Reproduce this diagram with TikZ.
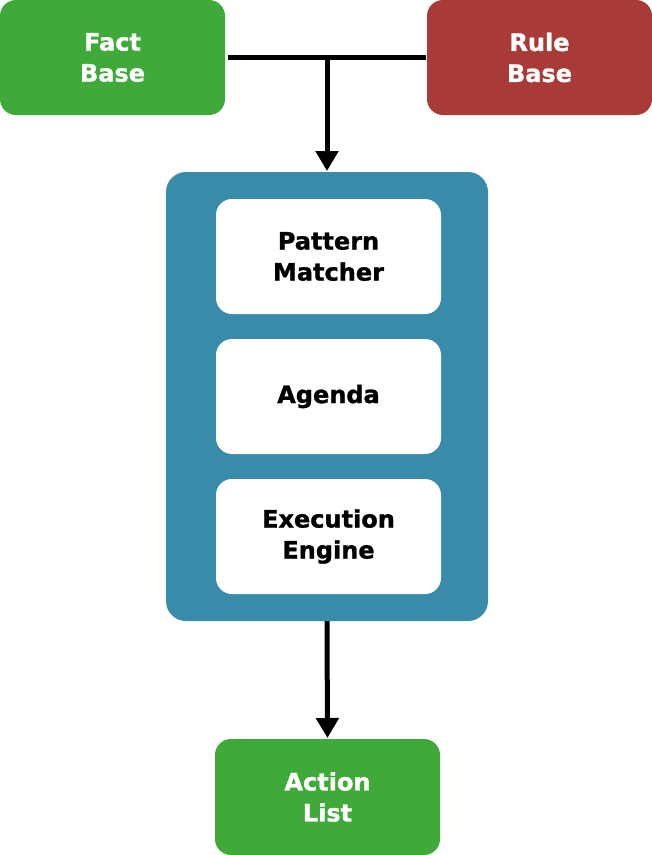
\documentclass[tikz,border=0pt]{standalone}
\usepackage{fontspec}
\setmainfont{DejaVu Sans}[BoldFeatures={FakeBold=1.2}]
\usepackage{xcolor}
\usetikzlibrary{arrows.meta}

\definecolor{factgreen}{HTML}{3FAA3A}
\definecolor{rulered}{HTML}{A83B38}
\definecolor{engineblue}{HTML}{388CA9}

\begin{document}
\begin{tikzpicture}[x=1pt, y=-1pt,
        box/.style={rounded corners=16pt, minimum width=225pt, minimum height=115pt,
            inner sep=0pt, outer sep=0pt, align=center,
            font=\fontsize{24}{31}\selectfont\bfseries},
        flow/.style={line width=5pt, -{Triangle[width=22pt, length=20pt]}}]
        \useasboundingbox (0,0) rectangle (652,855);

        % Inputs
        \node[box, fill=factgreen, text=white] (fact) at (112.5,57.5) {Fact\\Base};
        \node[box, fill=rulered, text=white] (rule) at (539.5,57.5) {Rule\\Base};

        % Inference engine
        \node[rounded corners=20pt, fill=engineblue, minimum width=322pt, minimum height=449pt,
            inner sep=0pt, outer sep=0pt] (engine) at (327,396.5) {};
        \node[box, fill=white] (matcher) at (328.5,256.5) {Pattern\\Matcher};
        \node[box, fill=white] (agenda) at (328.5,396.5) {Agenda};
        \node[box, fill=white] (execution) at (328.5,536.5) {Execution\\Engine};

        % Output
        \node[box, fill=factgreen, text=white, minimum height=116pt] (action) at (327.5,797) {Action\\List};

        % Connections
        \draw[line width=5pt, shorten <=3pt, shorten >=1pt] (fact.east) -- (rule.west);
        \coordinate (join) at (fact.east -| engine.north);
        \draw[flow, shorten >=1pt] (join) -- (engine.north);
        \draw[flow, shorten >=1pt] (engine.south) -- (action.north);
\end{tikzpicture}
\end{document}
